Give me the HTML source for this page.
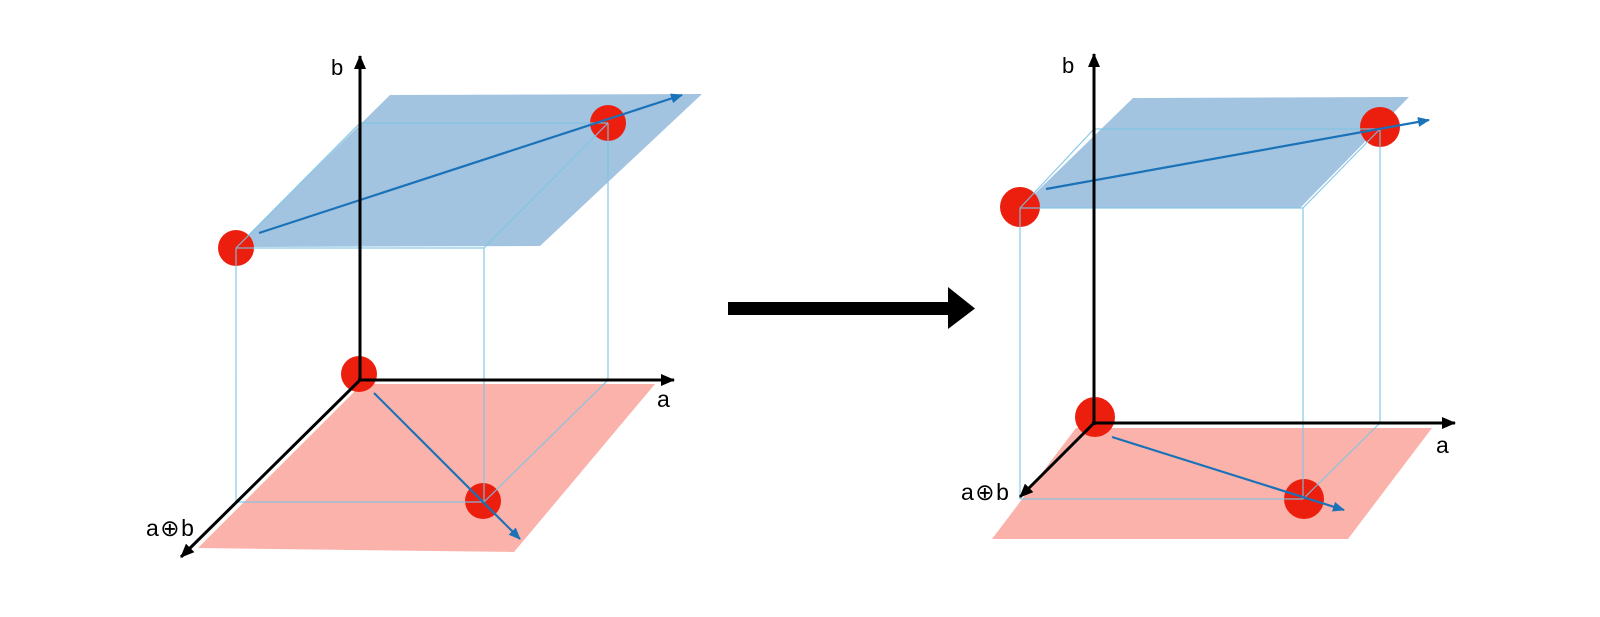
<!DOCTYPE html>
<html>
<head>
<meta charset="utf-8">
<style>
  html, body { margin:0; padding:0; background:#ffffff; }
  body { width:1600px; height:617px; overflow:hidden; }
  svg { display:block; }
  text { font-family: "Liberation Sans", "DejaVu Sans", sans-serif; fill:#000; }
</style>
</head>
<body>
<svg width="1600" height="617" viewBox="0 0 1600 617" xmlns="http://www.w3.org/2000/svg">
  <defs>
    <marker id="bk" markerWidth="14" markerHeight="12" refX="13" refY="6" orient="auto" markerUnits="userSpaceOnUse">
      <path d="M0,0 L14,6 L0,12 Z" fill="#000"/>
    </marker>
    <marker id="bl" markerWidth="12" markerHeight="10" refX="11" refY="5" orient="auto" markerUnits="userSpaceOnUse">
      <path d="M0,0 L12,5 L0,10 Z" fill="#1a72b8"/>
    </marker>
  </defs>

  <!-- ================= LEFT DIAGRAM ================= -->
  <polygon points="362,384 655,384 514,552 198,548" fill="#fbb2ab"/>
  <polygon points="390,95 702,94 540,246 236,247" fill="#a2c4e1"/>

  <circle cx="236" cy="248" r="18" fill="#ec1f0e"/>
  <circle cx="608" cy="123" r="18" fill="#ec1f0e"/>
  <circle cx="359" cy="374" r="18" fill="#ec1f0e"/>
  <circle cx="483" cy="501" r="18" fill="#ec1f0e"/>

  <g stroke="#7cc4e4" stroke-width="1.2" fill="none" opacity="0.9">
    <line x1="360" y1="123" x2="608" y2="123"/>
    <line x1="360" y1="123" x2="236" y2="248"/>
    <line x1="236" y1="248" x2="484" y2="248"/>
    <line x1="608" y1="123" x2="484" y2="248"/>
    <line x1="236" y1="248" x2="236" y2="502"/>
    <line x1="484" y1="248" x2="484" y2="502"/>
    <line x1="608" y1="123" x2="608" y2="380"/>
    <line x1="236" y1="502" x2="484" y2="502"/>
    <line x1="608" y1="380" x2="484" y2="502"/>
  </g>

  <line x1="259" y1="233" x2="682" y2="95" stroke="#1a72b8" stroke-width="2.2" marker-end="url(#bl)"/>
  <line x1="374" y1="393" x2="520" y2="539" stroke="#1a72b8" stroke-width="2.2" marker-end="url(#bl)"/>

  <line x1="360" y1="381" x2="360" y2="56" stroke="#000" stroke-width="3" marker-end="url(#bk)"/>
  <line x1="358" y1="380" x2="674" y2="380" stroke="#000" stroke-width="3" marker-end="url(#bk)"/>
  <line x1="360" y1="380" x2="181" y2="557" stroke="#000" stroke-width="3" marker-end="url(#bk)"/>

  <text x="331" y="75" font-size="22">b</text>
  <text x="657" y="407" font-size="23">a</text>
  <text x="146" y="536" font-size="23" letter-spacing="1.5">a⊕b</text>

  <!-- ================= BIG ARROW ================= -->
  <polygon points="728,302 948,302 948,287 975,308.5 948,329 948,315 728,315" fill="#000"/>

  <!-- ================= RIGHT DIAGRAM ================= -->
  <polygon points="1076,428 1432,428 1348,539 992,539" fill="#fbb2ab"/>
  <polygon points="1133,98 1409,97 1300,208 1020,208" fill="#a2c4e1"/>

  <circle cx="1020" cy="207" r="20" fill="#ec1f0e"/>
  <circle cx="1380" cy="127" r="20" fill="#ec1f0e"/>
  <circle cx="1095" cy="417" r="20" fill="#ec1f0e"/>
  <circle cx="1304" cy="499" r="20" fill="#ec1f0e"/>

  <g stroke="#7cc4e4" stroke-width="1.2" fill="none" opacity="0.9">
    <line x1="1094" y1="129" x2="1380" y2="129"/>
    <line x1="1094" y1="129" x2="1020" y2="208"/>
    <line x1="1020" y1="208" x2="1303" y2="208"/>
    <line x1="1380" y1="129" x2="1303" y2="208"/>
    <line x1="1020" y1="208" x2="1020" y2="499"/>
    <line x1="1303" y1="208" x2="1303" y2="499"/>
    <line x1="1380" y1="129" x2="1380" y2="423"/>
    <line x1="1020" y1="499" x2="1303" y2="499"/>
    <line x1="1380" y1="423" x2="1303" y2="499"/>
  </g>

  <line x1="1046" y1="189" x2="1429" y2="120" stroke="#1a72b8" stroke-width="2.2" marker-end="url(#bl)"/>
  <line x1="1112" y1="437" x2="1344" y2="510" stroke="#1a72b8" stroke-width="2.2" marker-end="url(#bl)"/>

  <line x1="1094" y1="425" x2="1094" y2="54" stroke="#000" stroke-width="3" marker-end="url(#bk)"/>
  <line x1="1092" y1="423" x2="1455" y2="423" stroke="#000" stroke-width="3" marker-end="url(#bk)"/>
  <line x1="1094" y1="423" x2="1020" y2="497" stroke="#000" stroke-width="3" marker-end="url(#bk)"/>

  <text x="1062" y="73" font-size="22">b</text>
  <text x="1436" y="453" font-size="23">a</text>
  <text x="961" y="500" font-size="23" letter-spacing="1.5">a⊕b</text>
</svg>
</body>
</html>
